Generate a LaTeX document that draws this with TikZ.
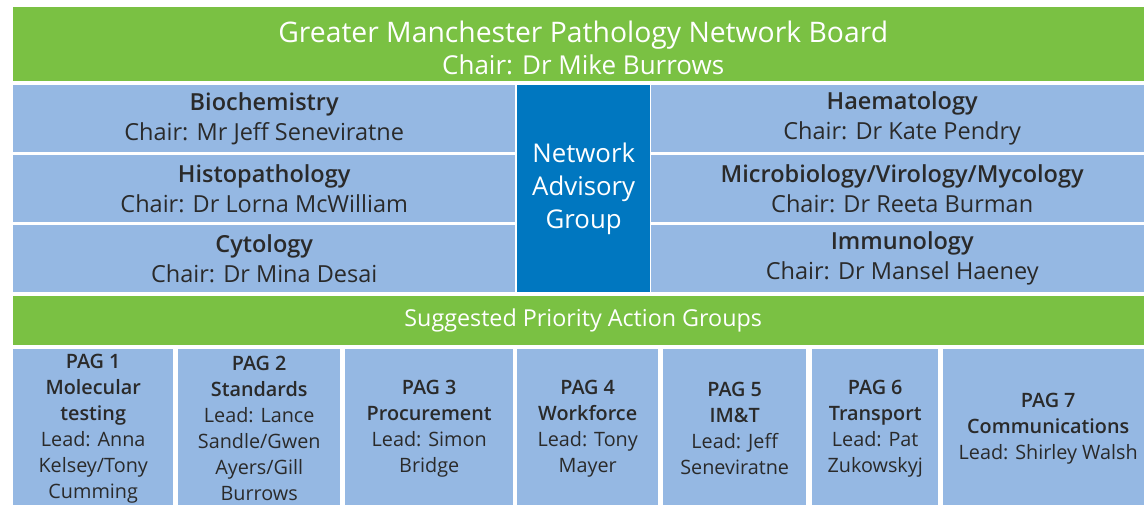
\documentclass[tikz,border=0pt]{standalone}
\usepackage{fontspec}
\IfFontExistsTF{Open Sans SemiBold}
  {\setmainfont{Open Sans}[BoldFont={Open Sans SemiBold}]}
  {\IfFontExistsTF{Open Sans Semibold}
    {\setmainfont{Open Sans}[BoldFont={Open Sans Semibold}]}
    {\setmainfont{Open Sans}}}
\definecolor{gmgreen}{HTML}{7AC143}
\definecolor{gmlight}{HTML}{95B8E3}
\definecolor{gmdark}{HTML}{0077C0}
\definecolor{gmtext}{HTML}{2A2A2A}
\tikzset{
  cell/.style={anchor=north west, inner sep=0pt, align=center, text=gmtext},
  greenbar/.style={cell, fill=gmgreen, text=white},
  bluecell/.style={cell, fill=gmlight, font=\fontsize{23.5}{30}\selectfont},
  pagcell/.style={cell, fill=gmlight, font=\fontsize{19.8}{26}\selectfont},
  caption/.style={inner sep=0pt, align=center, text=white},
}
\newcommand{\cellbox}[6]{% style, name, x0, y0, x1, y1 ; text follows
  \node[#1, minimum width={#5-#3}, minimum height={#6-#4}] (#2) at (#3,#4)}
\begin{document}
\begin{tikzpicture}[x=1pt,y=-1pt]
  \useasboundingbox (0,0) rectangle (1144,504);
  \fill[white] (0,0) rectangle (1144,504);

  % board
  \cellbox{greenbar}{board}{13}{7}{1153}{81}{};
  \node[caption] (boardtext) at ([yshift=-4pt]board.center)
    {\fontsize{28.3}{33}\selectfont Greater Manchester Pathology Network Board\\[4pt]
     \fontsize{26}{33}\selectfont Chair: Dr Mike Burrows};

  % specialty chairs, left
  \cellbox{bluecell}{bio}{13}{85}{515}{152}
    {\textbf{Biochemistry}\\Chair: Mr Jeff Seneviratne};
  \cellbox{bluecell}{histo}{13}{155}{515}{222}
    {\textbf{Histopathology}\\Chair: Dr Lorna McWilliam};
  \cellbox{bluecell}{cyto}{13}{225}{515}{292}
    {\textbf{Cytology}\\Chair: Dr Mina Desai};

  % advisory group
  \cellbox{cell, fill=gmdark, text=white, font=\fontsize{25.8}{33}\selectfont}{nag}{517}{85}{650}{292}
    {Network\\Advisory\\Group};

  % specialty chairs, right
  \cellbox{bluecell}{haem}{651}{85}{1153}{152}
    {\textbf{Haematology}\\Chair: Dr Kate Pendry};
  \cellbox{bluecell}{micro}{651}{155}{1153}{222}
    {\textbf{Microbiology/Virology/Mycology}\\Chair: Dr Reeta Burman};
  \cellbox{bluecell}{immuno}{651}{225}{1153}{292}
    {\textbf{Immunology}\\Chair: Dr Mansel Haeney};

  % priority action groups
  \cellbox{greenbar, font=\fontsize{23.3}{26}\selectfont}{spag}{13}{296}{1153}{345}
    {Suggested Priority Action Groups};

  \cellbox{pagcell}{pag1}{13}{349}{173}{508}
    {\textbf{PAG 1}\\\textbf{Molecular}\\\textbf{testing}\\Lead: Anna\\Kelsey/Tony\\Cumming};
  \cellbox{pagcell}{pag2}{178}{349}{340}{508}
    {\textbf{PAG 2}\\\textbf{Standards}\\Lead: Lance\\Sandle/Gwen\\Ayers/Gill\\Burrows};
  \cellbox{pagcell}{pag3}{345}{349}{513}{508}
    {\textbf{PAG 3}\\\textbf{Procurement}\\Lead: Simon\\Bridge};
  \cellbox{pagcell}{pag4}{517}{349}{658}{508}
    {\textbf{PAG 4}\\\textbf{Workforce}\\Lead: Tony\\Mayer};
  \cellbox{pagcell}{pag5}{663}{349}{806}{508}
    {\textbf{PAG 5}\\\textbf{IM\&T}\\Lead: Jeff\\Seneviratne};
  \cellbox{pagcell}{pag6}{812}{349}{938}{508}
    {\textbf{PAG 6}\\\textbf{Transport}\\Lead: Pat\\Zukowskyj};
  \cellbox{pagcell}{pag7}{943}{349}{1153}{508}
    {\textbf{PAG 7}\\\textbf{Communications}\\Lead: Shirley Walsh};
\end{tikzpicture}
\end{document}
